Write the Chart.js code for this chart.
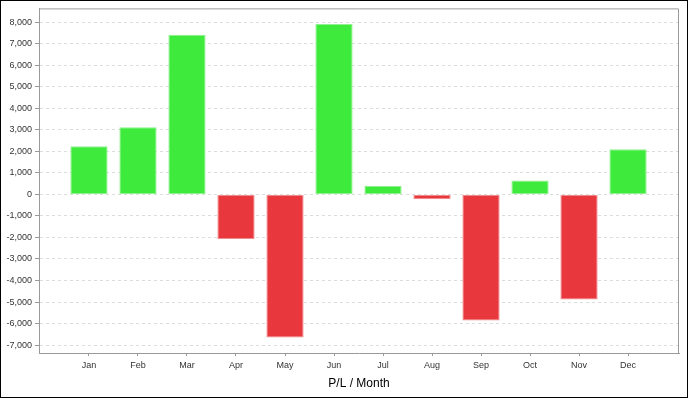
<!DOCTYPE html>
<html>
<head>
<meta charset="utf-8">
<script src="https://cdn.jsdelivr.net/npm/chart.js@4"></script>
<style>
  html, body { margin: 0; padding: 0; background: #fff; }
  #wrap { width: 688px; height: 398px; }
</style>
</head>
<body>
<div id="wrap"><canvas id="plChart" width="688" height="398"></canvas></div>
<script>
// P/L per month
var months = ['Jan', 'Feb', 'Mar', 'Apr', 'May', 'Jun', 'Jul', 'Aug', 'Sep', 'Oct', 'Nov', 'Dec'];
var profitLoss = [2240, 3120, 7420, -2070, -6650, 7930, 400, -220, -5860, 650, -4880, 2100];
var yTicks = [8000, 7000, 6000, 5000, 4000, 3000, 2000, 1000, 0, -1000, -2000, -3000, -4000, -5000, -6000, -7000];

var GREEN = '#3eeb3d';
var RED = '#e8383d';

// frame around plot area + outer black border
var framePlugin = {
    id: 'frame',
    afterDraw: function (chart) {
        var c = chart.ctx, a = chart.chartArea;
        c.save();
        c.setLineDash([]);
        c.strokeStyle = '#9a9a9a';
        c.lineWidth = 1;
        c.beginPath();
        c.moveTo(a.left, a.top + 0.5);
        c.lineTo(a.right - 0.5, a.top + 0.5);
        c.lineTo(a.right - 0.5, a.bottom);
        c.stroke();
        c.strokeStyle = '#000';
        c.strokeRect(0.5, 0.5, chart.width - 1, chart.height - 1);
        c.restore();
    }
};

document.addEventListener('DOMContentLoaded', function () {
    var ctx = document.getElementById('plChart').getContext('2d');

    var points = months.map(function (m, i) { return { x: i, y: profitLoss[i] }; });

    new Chart(ctx, {
        type: 'bar',
        data: {
            datasets: [{
                data: points,
                backgroundColor: profitLoss.map(function (v) { return v >= 0 ? GREEN : RED; }),
                borderColor: profitLoss.map(function (v) { return v >= 0 ? '#8ff08e' : '#f08a8d'; }),
                borderWidth: 1,
                borderSkipped: false,
                barPercentage: 0.76,
                categoryPercentage: 1
            }]
        },
        options: {
            responsive: false,
            animation: false,
            layout: { padding: { top: 7, right: 9, left: 0, bottom: 0 } },
            plugins: {
                legend: { display: false },
                tooltip: { enabled: false }
            },
            scales: {
                x: {
                    type: 'linear',
                    min: -1.02,
                    max: 12.04,
                    offset: false,
                    afterBuildTicks: function (scale) {
                        scale.ticks = months.map(function (m, i) { return { value: i }; });
                    },
                    afterFit: function (scale) { scale.height = 45; },
                    ticks: {
                        autoSkip: false,
                        maxRotation: 0,
                        padding: 4,
                        color: '#333',
                        font: { family: 'Liberation Sans', size: 9 },
                        callback: function (v) { return months[v]; }
                    },
                    grid: {
                        drawOnChartArea: false,
                        drawTicks: true,
                        tickLength: 3,
                        tickColor: '#9a9a9a',
                        offset: false
                    },
                    border: { color: '#9a9a9a', width: 1 },
                    title: {
                        display: true,
                        text: 'P/L / Month',
                        color: '#000',
                        font: { family: 'Liberation Sans', size: 12 },
                        padding: { top: 6, bottom: 7 }
                    }
                },
                y: {
                    min: -7370,
                    max: 8650,
                    afterBuildTicks: function (scale) {
                        scale.ticks = yTicks.map(function (v) { return { value: v }; });
                    },
                    afterFit: function (scale) { scale.width = 39; },
                    ticks: {
                        padding: 3,
                        color: '#333',
                        font: { family: 'Liberation Sans', size: 9 },
                        callback: function (v) { return v.toLocaleString('en-US'); }
                    },
                    grid: {
                        color: '#dcdcdc',
                        drawTicks: true,
                        tickLength: 4,
                        tickColor: '#9a9a9a',
                        tickBorderDash: [0, 0]
                    },
                    border: { color: '#9a9a9a', width: 1, dash: [3, 3] }
                }
            }
        },
        plugins: [framePlugin]
    });
});
</script>
</body>
</html>
